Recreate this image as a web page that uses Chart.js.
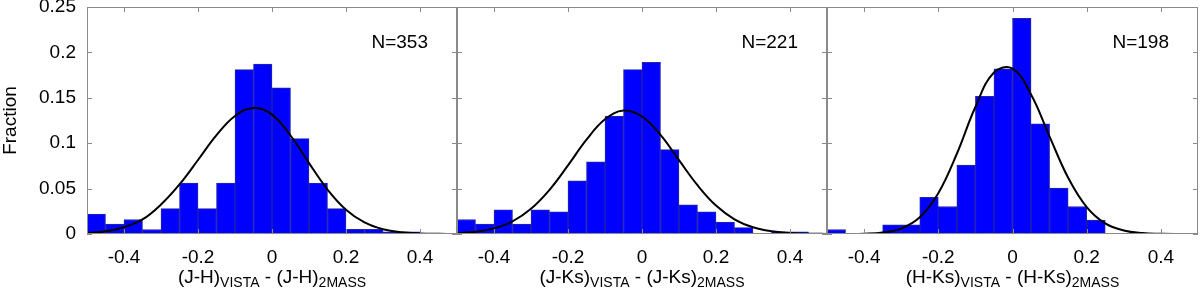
<!DOCTYPE html>
<html>
<head>
<meta charset="utf-8">
<script src="https://cdn.jsdelivr.net/npm/chart.js@4.4.1/dist/chart.umd.min.js"></script>
<style>
  html, body { margin: 0; padding: 0; background: #fff; }
  #wrap { position: relative; width: 1200px; height: 296px; }
  canvas { position: absolute; top: 0; }
</style>
</head>
<body>
<div id="wrap">
  <canvas id="c1" width="460" height="296" style="left:0px"></canvas>
  <canvas id="c2" width="380" height="296" style="left:450px"></canvas>
  <canvas id="c3" width="380" height="296" style="left:820px"></canvas>
</div>
<script>
// bin centres, bin width 0.05 from -0.5 to 0.5
const binCenters = [-0.475, -0.425, -0.375, -0.325, -0.275, -0.225, -0.175, -0.125, -0.075, -0.025,
                    0.025, 0.075, 0.125, 0.175, 0.225, 0.275, 0.325, 0.375, 0.425, 0.475];

// histogram fractions
const jhFrac  = [0.022, 0.011, 0.016, 0.005, 0.028, 0.056, 0.028, 0.056, 0.181, 0.187,
                 0.161, 0.105, 0.056, 0.028, 0.0052, 0.0052, 0.0025, 0.0025, 0, 0];
const jksFrac = [0.016, 0.011, 0.0265, 0.011, 0.0265, 0.0245, 0.0585, 0.0795, 0.130, 0.181,
                 0.189, 0.093, 0.032, 0.0243, 0.013, 0.007, 0, 0.0025, 0.0025, 0];
const hksFrac = [0.005, 0, 0, 0.0101, 0.0101, 0.0404, 0.0303, 0.0758, 0.1515, 0.1818,
                 0.2374, 0.1212, 0.0505, 0.0303, 0.0152, 0, 0, 0, 0, 0];

// gaussian fit curves, read at these x positions
const fitX = [-0.5, -0.45, -0.4, -0.35, -0.3, -0.25, -0.2, -0.15, -0.1, -0.05, 0,
              0.05, 0.1, 0.15, 0.2, 0.25, 0.3, 0.35, 0.4, 0.45, 0.5];
const jhFit  = [0.001, 0.003, 0.0075, 0.016, 0.0325, 0.0546, 0.0815, 0.1088, 0.130, 0.1389, 0.1315,
                0.1085, 0.0781, 0.049, 0.0268, 0.0128, 0.0053, 0.0019, 0.0006, 0.0002, 0];
const jksFit = [0.0009, 0.0025, 0.0062, 0.014, 0.0278, 0.0487, 0.0756, 0.1039, 0.1263, 0.1359, 0.1294,
                0.1091, 0.0813, 0.0537, 0.0313, 0.0162, 0.0074, 0.003, 0.0011, 0.0003, 0.0001];
const hksFit = [0, 0.0001, 0.0003, 0.0016, 0.006, 0.0184, 0.0449, 0.0884, 0.1399, 0.1779, 0.1822,
                0.1537, 0.1073, 0.062, 0.0297, 0.0117, 0.0039, 0.001, 0.0002, 0, 0];

const xTicks = [-0.4, -0.2, 0, 0.2, 0.4];
const yTicks = [0, 0.05, 0.1, 0.15, 0.2, 0.25];
const nLabels = ['N=353', 'N=221', 'N=198'];
const colours = ['J-H', 'J-Ks', 'H-Ks'];

const FONT = "'Liberation Sans', Arial, Helvetica, sans-serif";
const frameColor = '#8a8a8a';

// frame, inward ticks and the extra texts
const panelPlugin = {
  id: 'panel',
  afterDatasetsDraw(chart, args, opts) {
    const { ctx, chartArea: a, scales } = chart;
    ctx.save();
    ctx.strokeStyle = frameColor;
    ctx.lineWidth = 1;
    ctx.strokeRect(Math.round(a.left) + 0.5, Math.round(a.top) + 0.5,
                   Math.round(a.right - a.left) - 1, Math.round(a.bottom - a.top) - 1);
    ctx.beginPath();
    xTicks.forEach(v => {
      const px = Math.round(scales.x.getPixelForValue(v)) + 0.5;
      ctx.moveTo(px, a.bottom); ctx.lineTo(px, a.bottom - 5);
      ctx.moveTo(px, a.top); ctx.lineTo(px, a.top + 5);
    });
    yTicks.forEach(v => {
      const py = Math.round(scales.y.getPixelForValue(v)) + 0.5;
      ctx.moveTo(a.left, py); ctx.lineTo(a.left + 5, py);
      ctx.moveTo(a.right, py); ctx.lineTo(a.right - 5, py);
    });
    ctx.stroke();
    ctx.restore();
  },
  afterDraw(chart, args, opts) {
    const { ctx, chartArea: a } = chart;
    ctx.save();
    ctx.fillStyle = '#000';
    // N label
    ctx.font = '19px ' + FONT;
    ctx.textAlign = 'right';
    ctx.textBaseline = 'middle';
    ctx.fillText(opts.n, a.right - 29, 43);
    // axis title with subscripts
    const parts = [['(' + opts.c + ')', false], ['VISTA', true], [' - (' + opts.c + ')', false], ['2MASS', true]];
    let total = 0;
    parts.forEach(p => {
      ctx.font = (p[1] ? '14px ' : '19px ') + FONT;
      total += ctx.measureText(p[0]).width;
    });
    let x = (a.left + a.right) / 2 - total / 2;
    ctx.textAlign = 'left';
    ctx.textBaseline = 'alphabetic';
    parts.forEach(p => {
      ctx.font = (p[1] ? '14px ' : '19px ') + FONT;
      ctx.fillText(p[0], x, p[1] ? 287 : 283);
      x += ctx.measureText(p[0]).width;
    });
    if (opts.yTitle) {
      ctx.translate(11, (a.top + a.bottom) / 2);
      ctx.rotate(-Math.PI / 2);
      ctx.font = '19px ' + FONT;
      ctx.textAlign = 'center';
      ctx.textBaseline = 'middle';
      ctx.fillText('Fraction', 0, 0);
    }
    ctx.restore();
  }
};

function makePanel(id, frac, fit, idx, yWidth, padRight) {
  const showY = idx === 0;
  return new Chart(document.getElementById(id), {
    type: 'bar',
    data: {
      datasets: [{
        type: 'line',
        data: fitX.map((x, i) => ({ x: x, y: fit[i] })),
        borderColor: '#000',
        borderWidth: 2,
        pointRadius: 0,
        tension: 0.4,
        fill: false
      }, {
        data: binCenters.map((x, i) => ({ x: x, y: frac[i] })),
        backgroundColor: '#0000ff',
        borderColor: 'rgba(0,0,150,0.85)',
        borderWidth: 1,
        barPercentage: 1,
        categoryPercentage: 1
      }]
    },
    options: {
      responsive: false,
      animation: false,
      layout: { padding: { top: 7, right: padRight, left: 0, bottom: 0 } },
      plugins: {
        legend: { display: false },
        tooltip: { enabled: false },
        panel: { n: nLabels[idx], c: colours[idx], yTitle: showY }
      },
      scales: {
        x: {
          type: 'linear',
          min: -0.5,
          max: 0.5,
          offset: false,
          grid: { display: false, drawTicks: false },
          border: { display: false },
          ticks: {
            color: '#000',
            font: { family: FONT, size: 19 },
            padding: 12,
            maxRotation: 0,
            autoSkip: false,
            callback: v => String(v)
          },
          afterBuildTicks: s => { s.ticks = xTicks.map(v => ({ value: v })); },
          afterFit: s => { s.height = 62; s.paddingLeft = 0; s.paddingRight = 0; }
        },
        y: {
          min: 0,
          max: 0.25,
          grid: { display: false, drawTicks: false },
          border: { display: false },
          ticks: {
            display: showY,
            color: '#000',
            font: { family: FONT, size: 19 },
            padding: 11,
            callback: v => String(v)
          },
          afterBuildTicks: s => { s.ticks = yTicks.map(v => ({ value: v })); },
          afterFit: s => { s.width = yWidth; s.paddingTop = 0; s.paddingBottom = 0; }
        }
      }
    },
    plugins: [panelPlugin]
  });
}

makePanel('c1', jhFrac, jhFit, 0, 87, 3);
makePanel('c2', jksFrac, jksFit, 1, 7, 3);
makePanel('c3', hksFrac, hksFit, 2, 7, 2);
</script>
</body>
</html>
